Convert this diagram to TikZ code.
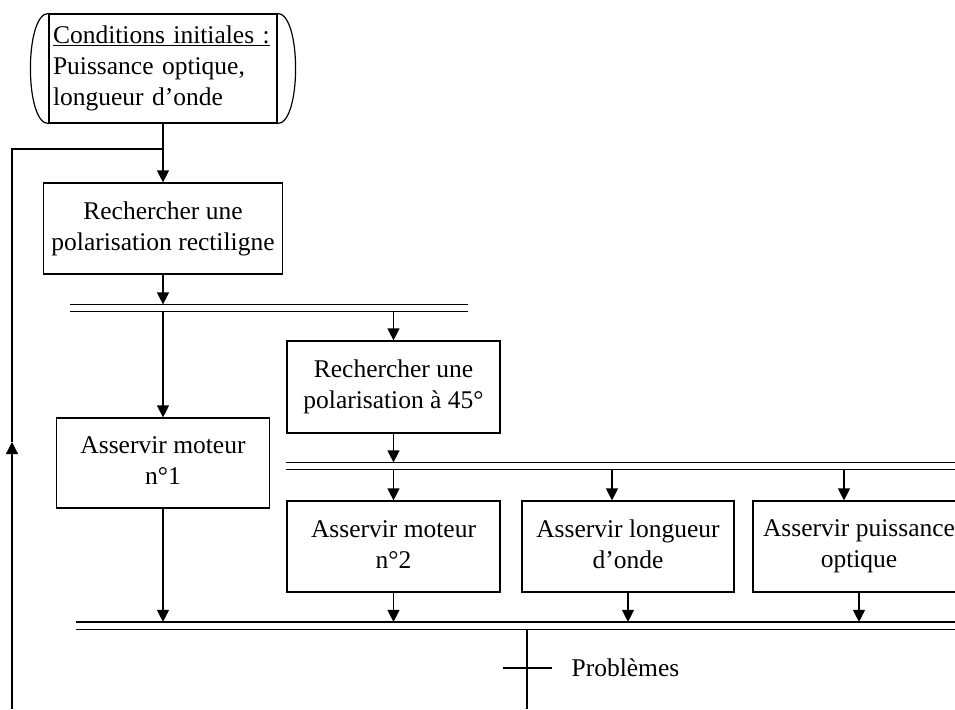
\documentclass[tikz,border=0pt]{standalone}
\usepackage{fontspec}
\setmainfont{Liberation Serif}
\usetikzlibrary{arrows.meta}

\begin{document}
\begin{tikzpicture}%
  [x=1pt,y=-1pt,line width=1.2pt,font=\fontsize{25.5}{31}\selectfont,
   arr/.style={-{Triangle[length=12pt,width=12pt]}}]
  \tikzstyle{step node}=[rectangle,draw,align=center,inner sep=0,minimum width=213,minimum height=91,
    execute at begin node={\rule{0pt}{30pt}},execute at end node={\rule[-4pt]{0pt}{4pt}}]
  \tikzstyle{bar node}=[inner sep=0,minimum height=6]
  \useasboundingbox (0,0) rectangle (955,709);
  \clip (0,0) rectangle (955,709);
  % start block with rounded ends
  \node(start)[rectangle,draw,align=left,text width=220pt,inner sep=4pt,minimum height=109pt]
    at (163,68.5) {\underline{Conditions initiales :}\\Puissance optique,\\longueur d’onde};
  \draw (start.north west) .. controls +(-24,0) and +(-24,0) .. (start.south west);
  \draw (start.north east) .. controls +(24,0) and +(24,0) .. (start.south east);
  % steps
  \node(lin)[step node,minimum width=239] at (163,228.5) {Rechercher une\\polarisation rectiligne};
  \node(m1)[step node,minimum height=90] at (163,463) {Asservir moteur\\n°1};
  \node(d45)[step node,minimum height=92] at (393.5,387) {Rechercher une\\polarisation à 45°};
  \node(m2)[step node] at (393.5,546.5) {Asservir moteur\\n°2};
  \node(lambda)[step node,minimum width=212] at (628,546.5) {Asservir longueur\\d’onde};
  \node(pwr)[step node,minimum width=212] at (859,546.5) {Asservir puissance\\optique};
  % parallel bars
  \node(b1)[bar node,minimum width=396] at (269,308) {};
  \node(b2)[bar node,minimum width=700] at (637,466) {};
  \node(b3)[bar node,minimum width=900] at (527,625.5) {};
  \foreach \b in {b1,b2,b3}
    \draw (\b.north west) -- (\b.north east) (\b.south west) -- (\b.south east);
  % links
  \coordinate(merge) at (163,149);
  \draw[arr] (start.south) -- (lin.north);
  \draw[arr] (lin.south) -- (lin.south |- b1.north);
  \draw[arr] (m1.north |- b1.south) -- (m1.north);
  \draw[arr] (d45.north |- b1.south) -- (d45.north);
  \draw[arr] (d45.south) -- (d45.south |- b2.north);
  \draw[arr] (m2.north |- b2.south) -- (m2.north);
  \draw[arr] ([xshift=-16pt]lambda.north |- b2.south) -- ([xshift=-16pt]lambda.north);
  \draw[arr] ([xshift=-15pt]pwr.north |- b2.south) -- ([xshift=-15pt]pwr.north);
  \foreach \n in {m1,m2,lambda,pwr}
    \draw[arr] (\n.south) -- (\n.south |- b3.north);
  % loop back
  \coordinate(loop) at (12,709);
  \coordinate(up) at (12,442);
  \draw[arr] (loop) -- (up);
  \draw (up) |- (merge);
  % problems
  \coordinate(pb) at (527,668);
  \draw (b3.south -| pb) -- (pb |- loop);
  \draw ([xshift=-24pt]pb) -- ([xshift=25pt]pb);
  \node(prob)[anchor=west,inner sep=0] at (571,668) {Problèmes};
\end{tikzpicture}
\end{document}
